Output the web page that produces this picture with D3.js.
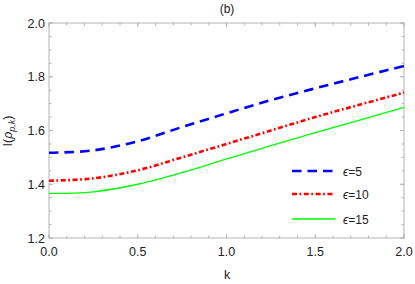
<!DOCTYPE html>
<html><head><meta charset="utf-8">
<script src="https://cdn.jsdelivr.net/npm/d3@7"></script>
<style>body{margin:0;background:#fff;} svg{display:block;font-family:"Liberation Sans",Arial,sans-serif;}</style>
</head><body>
<svg id="c" width="415" height="284"></svg>
<script>
const kValues = [0, 0.25, 0.5, 0.75, 1.0, 1.25, 1.5, 1.75, 2.0];
const eps5  = [1.517, 1.526, 1.560, 1.613, 1.664, 1.713, 1.757, 1.799, 1.840];
const eps10 = [1.413, 1.422, 1.452, 1.500, 1.550, 1.600, 1.650, 1.696, 1.741];
const eps15 = [1.366, 1.372, 1.400, 1.443, 1.494, 1.544, 1.592, 1.639, 1.686];
const seriesNames = ["5", "10", "15"];
const xTicks = [0, 0.5, 1.0, 1.5, 2.0];
const yTicks = [1.2, 1.4, 1.6, 1.8, 2.0];

const svg = d3.select("#c");
const L = 49, R = 404, T = 23, B = 238;
const x = d3.scaleLinear().domain([0, 2]).range([L, R]);
const y = d3.scaleLinear().domain([1.2, 2.0]).range([B, T]);
const frameCol = "#b4b4b4";

const xMinor = d3.range(0, 2.0001, 0.1);
const yMinor = d3.range(1.2, 2.0001, 0.05);
const g = svg.append("g");
function tickLines(vals, isX, major) {
  const len = major ? 4 : 2.5;
  vals.forEach(v => {
    if (isX) {
      const px = x(v);
      g.append("line").attr("x1", px).attr("x2", px).attr("y1", B).attr("y2", B - len);
      g.append("line").attr("x1", px).attr("x2", px).attr("y1", T).attr("y2", T + len);
    } else {
      const py = y(v);
      g.append("line").attr("x1", L).attr("x2", L + len).attr("y1", py).attr("y2", py);
      g.append("line").attr("x1", R).attr("x2", R - len).attr("y1", py).attr("y2", py);
    }
  });
}
tickLines(xMinor, true, false);
tickLines(yMinor, false, false);
tickLines(xTicks, true, true);
tickLines(yTicks, false, true);
g.selectAll("line").attr("stroke", frameCol).attr("stroke-width", 1);

svg.append("rect").attr("x", L).attr("y", T).attr("width", R - L).attr("height", B - T)
  .attr("fill", "none").attr("stroke", frameCol).attr("stroke-width", 1);

svg.selectAll(".xl").data(xTicks).enter().append("text")
  .attr("x", d => x(d)).attr("y", 256).attr("text-anchor", "middle")
  .attr("font-size", 12.5).attr("fill", "#222").text(d => d.toFixed(1));
svg.selectAll(".yl").data(yTicks).enter().append("text")
  .attr("x", 45).attr("y", d => y(d) + 4.5).attr("text-anchor", "end")
  .attr("font-size", 12.5).attr("fill", "#222").text(d => d.toFixed(1));

svg.append("text").attr("x", 227).attr("y", 279).attr("text-anchor", "middle")
  .attr("font-size", 12.5).attr("fill", "#222").text("k");
const yt = svg.append("text").attr("transform", "translate(12,131) rotate(-90)")
  .attr("text-anchor", "middle").attr("font-size", 12.5).attr("fill", "#222");
yt.append("tspan").text("I(");
yt.append("tspan").attr("font-style", "italic").text("ρ");
yt.append("tspan").attr("font-size", 9).attr("dy", 3).attr("font-style", "italic").text("p,k");
yt.append("tspan").attr("dy", -3).text(")");
svg.append("text").attr("x", 227).attr("y", 13).attr("text-anchor", "middle")
  .attr("font-size", 12).attr("fill", "#222").text("(b)");

const series = [
  {vals: eps5, color: "#0000ff", dash: "9.5,6", w: 2.6},
  {vals: eps10, color: "#ff0000", dash: "5,2.5,1.8,2.5", w: 2.6},
  {vals: eps15, color: "#00ff00", dash: null, w: 1.3}
];
const line = d3.line().x(d => x(d[0])).y(d => y(d[1])).curve(d3.curveCatmullRom.alpha(0.5));
series.forEach(s => {
  svg.append("path").datum(kValues.map((k, i) => [k, s.vals[i]]))
    .attr("d", line).attr("fill", "none").attr("stroke", s.color)
    .attr("stroke-width", s.w).attr("stroke-dasharray", s.dash);
});

const legY = [171, 194, 219];
series.forEach((s, i) => {
  svg.append("line").attr("x1", 292).attr("x2", 335).attr("y1", legY[i]).attr("y2", legY[i])
    .attr("stroke", s.color).attr("stroke-width", s.w).attr("stroke-dasharray", s.dash);
  const t = svg.append("text").attr("x", 343).attr("y", legY[i] + 4.5)
    .attr("font-size", 12).attr("fill", "#222");
  t.append("tspan").attr("font-style", "italic").text("ϵ");
  t.append("tspan").text("=" + seriesNames[i]);
});
</script>
</body></html>
